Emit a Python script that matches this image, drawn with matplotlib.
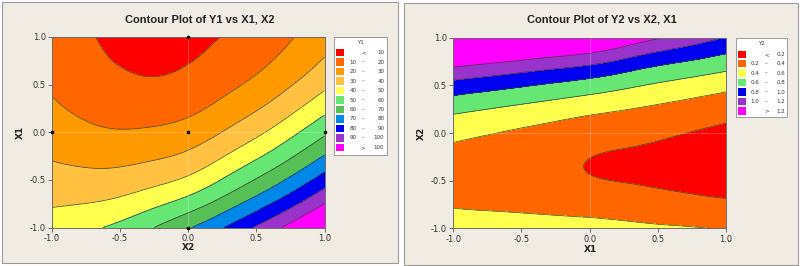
import numpy as np
import matplotlib.pyplot as plt
import matplotlib.tri as mtri
from matplotlib.patches import Rectangle

plt.rcParams['axes.unicode_minus'] = False

W, H = 800, 266

# grid of the response surfaces (both factors coded -1..1)
grid_vals = [-1.0, -0.75, -0.5, -0.25, 0.0, 0.25, 0.5, 0.75, 1.0]
rows_desc = grid_vals[::-1]   # every column below runs from +1 down to -1

# Y1: one list per X2 column, X1 from 1 to -1
y1_cols = [
    [14.9, 16.5, 18.7, 21.5, 25.0, 29.1, 33.8, 39.1, 45.1],
    [10.9, 12.3, 14.6, 17.9, 22.1, 27.2, 33.2, 40.1, 48.1],
    [8.4, 9.6, 11.9, 15.8, 20.7, 26.8, 34.1, 42.7, 52.6],
    [7.4, 8.9, 11.0, 15.8, 21.5, 28.6, 37.2, 47.8, 60.0],
    [8.0, 9.7, 12.8, 17.8, 24.2, 32.1, 41.9, 54.5, 69.0],
    [10.2, 12.8, 17.0, 22.8, 30.2, 39.4, 50.5, 64.0, 79.3],
    [14.0, 17.4, 22.4, 29.2, 37.8, 48.3, 60.7, 75.0, 91.2],
    [19.3, 23.4, 29.4, 37.4, 47.2, 58.7, 71.9, 86.8, 103.4],
    [26.2, 30.9, 37.9, 47.1, 58.1, 70.6, 84.6, 100.1, 117.1],
]
y1_levels = [10, 20, 30, 40, 50, 60, 70, 80, 90, 100]
y1_legend = [('', '<', '10'), ('10', '\u2013', '20'), ('20', '\u2013', '30'),
             ('30', '\u2013', '40'), ('40', '\u2013', '50'), ('50', '\u2013', '60'),
             ('60', '\u2013', '70'), ('70', '\u2013', '80'), ('80', '\u2013', '90'),
             ('90', '\u2013', '100'), ('', '>', '100')]

# Y2: one list per X1 column, X2 from 1 to -1
y2_cols = [
    [1.748, 1.296, 0.930, 0.649, 0.454, 0.344, 0.320, 0.382, 0.529],
    [1.685, 1.237, 0.876, 0.600, 0.412, 0.310, 0.294, 0.365, 0.523],
    [1.622, 1.178, 0.821, 0.551, 0.369, 0.275, 0.268, 0.348, 0.516],
    [1.557, 1.118, 0.766, 0.502, 0.326, 0.239, 0.239, 0.328, 0.504],
    [1.492, 1.057, 0.710, 0.452, 0.283, 0.202, 0.210, 0.307, 0.492],
    [1.354, 0.958, 0.642, 0.408, 0.256, 0.185, 0.196, 0.288, 0.462],
    [1.216, 0.858, 0.574, 0.364, 0.229, 0.168, 0.181, 0.269, 0.431],
    [1.103, 0.784, 0.516, 0.320, 0.195, 0.142, 0.160, 0.250, 0.412],
    [0.990, 0.709, 0.458, 0.275, 0.161, 0.116, 0.139, 0.231, 0.392],
]
y2_levels = [0.2, 0.4, 0.6, 0.8, 1.0, 1.2]
y2_legend = [('', '<', '0.2'), ('0.2', '\u2013', '0.4'), ('0.4', '\u2013', '0.6'),
             ('0.6', '\u2013', '0.8'), ('0.8', '\u2013', '1.0'), ('1.0', '\u2013', '1.2'),
             ('', '>', '1.2')]

# design points shown on the first plot
design_x2 = [0, -1, 0, 1, 0]
design_x1 = [1, 0, 0, 0, -1]

y1_colors = ['#FF0000', '#FF6600', '#FF9900', '#FFC13F', '#FFFF4D', '#66E673',
             '#55C055', '#0088E8', '#0000F0', '#9933CC', '#FF00FF']
y2_colors = ['#FF0000', '#FF6600', '#FFFF4D', '#66E673', '#0000F0', '#9933CC', '#FF00FF']

bg = '#F0ECE3'
txt = '#333333'


def fx(px):
    return px / W


def fy(py):
    return 1 - py / H


fig = plt.figure(figsize=(8, 2.66), dpi=100, facecolor='white')


def rect(x0, y0, x1, y1, **kw):
    fig.patches.append(Rectangle((fx(x0), fy(y1)), (x1 - x0) / W, (y1 - y0) / H,
                                 transform=fig.transFigure, **kw))


def contour_panel(ax, cols, levels, colors):
    gx, gy = np.meshgrid(grid_vals, rows_desc)
    z = np.array(cols).T
    tri = mtri.Triangulation(gx.ravel(), gy.ravel())
    tri_f, z_f = mtri.UniformTriRefiner(tri).refine_field(z.ravel(), subdiv=4)
    ax.tricontourf(tri_f, z_f, levels=[-1e6] + levels + [1e6], colors=colors)
    ax.tricontour(tri_f, z_f, levels=levels, colors='#3a3a3a', linewidths=0.5)
    ax.set_xlim(-1, 1)
    ax.set_ylim(-1, 1)
    ticks = [-1.0, -0.5, 0.0, 0.5, 1.0]
    ax.set_xticks(ticks)
    ax.set_yticks(ticks)
    ax.set_xticklabels(['%.1f' % t for t in ticks])
    ax.set_yticklabels(['%.1f' % t for t in ticks])
    ax.tick_params(direction='out', length=3, width=0.6, colors='#555555',
                   labelcolor=txt, labelsize=6, pad=1.5)
    for s in ax.spines.values():
        s.set_color('#6a6a6a')
        s.set_linewidth(0.7)
    ax.axvline(0, color='white', alpha=0.3, lw=0.6)
    ax.axhline(0, color='white', alpha=0.3, lw=0.6)


def legend_box(box, title, entries, colors, row0, step, patch_x, lo_r, sign_c, hi_r):
    x0, y0, x1, y1 = box
    rect(x0, y0, x1, y1, facecolor='white', edgecolor='#8c8c8c', lw=0.6, zorder=1)
    fig.text(fx((x0 + x1) / 2), fy(y0 + 5), title, ha='center', va='center',
             fontsize=4, color=txt)
    for i, (lo, sign, hi) in enumerate(entries):
        yc = row0 + i * step
        rect(patch_x, yc - 3.7, patch_x + 8, yc + 3.7, facecolor=colors[i],
             edgecolor='none', zorder=2)
        fig.text(fx(lo_r), fy(yc), lo, ha='right', va='center', fontsize=4, color=txt)
        fig.text(fx(sign_c), fy(yc), sign, ha='center', va='center', fontsize=4, color=txt)
        fig.text(fx(hi_r), fy(yc), hi, ha='right', va='center', fontsize=4, color=txt)


# panel backgrounds
rect(1.5, 1.5, 398, 263, facecolor=bg, edgecolor='#9a9a9a', lw=0.8, zorder=-5)
rect(403.5, 2.5, 798, 264.5, facecolor=bg, edgecolor='#9a9a9a', lw=0.8, zorder=-5)

# left: Y1
ax1 = fig.add_axes([fx(52), fy(227.5), 272.5 / W, 190.5 / H])
contour_panel(ax1, y1_cols, y1_levels, y1_colors)
ax1.plot(design_x2, design_x1, 'o', color='black', ms=1.6, clip_on=False, zorder=5)
fig.text(fx(200), fy(19), 'Contour Plot of Y1 vs X1, X2', ha='center', va='center',
         fontsize=8, fontweight='bold', family='Liberation Sans', color='#222222')
fig.text(fx(188.5), fy(248), 'X2', ha='center', va='center', fontsize=6.5,
         fontweight='bold', color='#222222')
fig.text(fx(20), fy(132), 'X1', ha='center', va='center', rotation=90, fontsize=6.5,
         fontweight='bold', color='#222222')
legend_box((334, 37.5, 386.7, 155), 'Y1', y1_legend, y1_colors,
           52.7, 9.46, 336, 356.7, 363.2, 384.3)

# right: Y2
ax2 = fig.add_axes([fx(453.3), fy(228.3), 272.7 / W, 190.6 / H])
contour_panel(ax2, y2_cols, y2_levels, y2_colors)
fig.text(fx(602), fy(20), 'Contour Plot of Y2 vs X2, X1', ha='center', va='center',
         fontsize=8, fontweight='bold', family='Liberation Sans', color='#222222')
fig.text(fx(590), fy(249), 'X1', ha='center', va='center', fontsize=6.5,
         fontweight='bold', color='#222222')
fig.text(fx(421), fy(133), 'X2', ha='center', va='center', rotation=90, fontsize=6.5,
         fontweight='bold', color='#222222')
legend_box((735.5, 38.3, 786.7, 117.3), 'Y2', y2_legend, y2_colors,
           54.3, 9.45, 737.7, 759.5, 766.5, 785)

fig.savefig('out.png', dpi=100, facecolor='white')
